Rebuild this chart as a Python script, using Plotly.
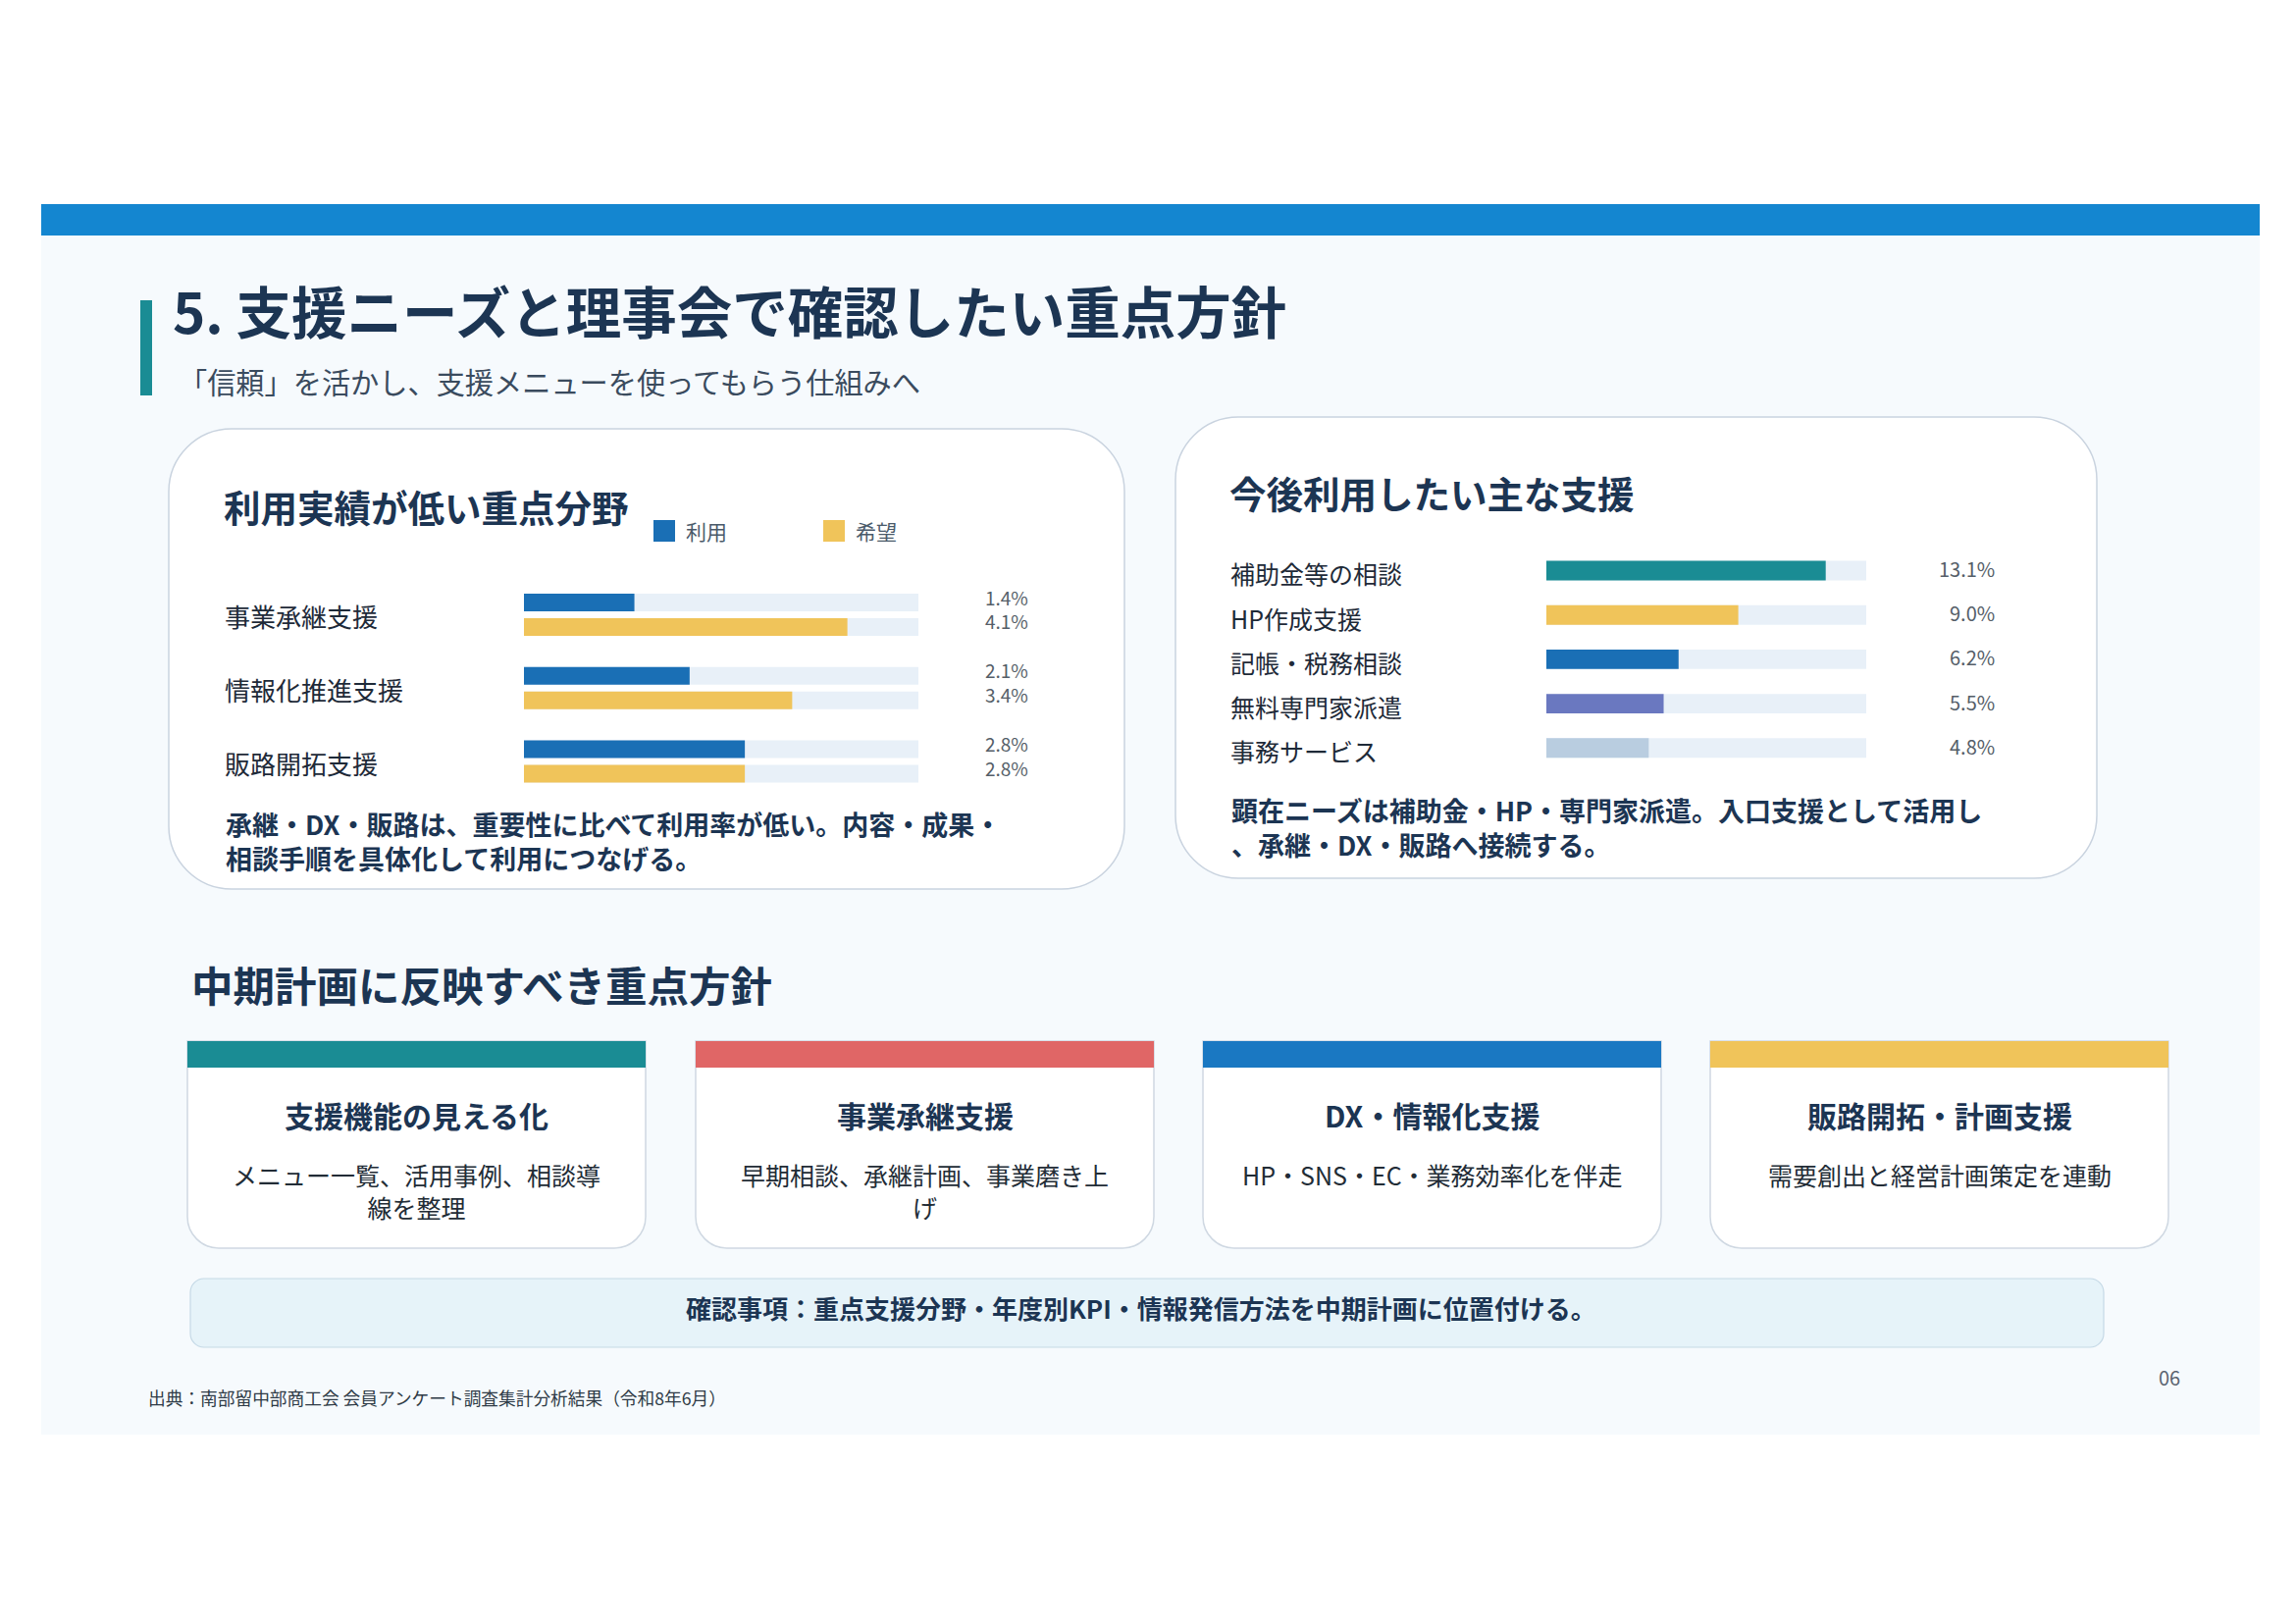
import plotly.graph_objects as go

W, H = 2340, 1654
FONT = "Noto Sans CJK JP"
NAVY = "#1c3553"

# ---------------- data ----------------
left_categories = ["事業承継支援", "情報化推進支援", "販路開拓支援"]
left_use = [1.4, 2.1, 2.8]
left_hope = [4.1, 3.4, 2.8]
left_max = 5

right_categories = ["補助金等の相談", "HP作成支援", "記帳・税務相談", "無料専門家派遣", "事務サービス"]
right_values = [13.1, 9.0, 6.2, 5.5, 4.8]
right_colors = ["#1a8c94", "#f0c45a", "#1a6fb5", "#6a78c0", "#b9cde0"]
right_max = 15

policy_titles = ["支援機能の見える化", "事業承継支援", "DX・情報化支援", "販路開拓・計画支援"]
policy_texts = ["メニュー一覧、活用事例、相談導<br>線を整理", "早期相談、承継計画、事業磨き上<br>げ",
                "HP・SNS・EC・業務効率化を伴走", "需要創出と経営計画策定を連動"]
policy_colors = ["#1a8c94", "#e06666", "#1a78c2", "#f0c45a"]

BLUE = "#1a6fb5"
YELLOW = "#f0c45a"
TRACK = "#e8f0f8"

fig = go.Figure()

def fx(px):
    return px / W

def fy(py):
    return 1 - py / H

# ---------------- left chart (xaxis2 / yaxis2) ----------------
l_x0, l_x1 = 534, 936
l_top, l_bot = 589.1, 813.4
bw = 0.24
off_use = -0.287
off_hope = 0.047
fig.add_trace(go.Bar(y=left_categories, x=[left_max] * 3, orientation="h", xaxis="x2", yaxis="y2",
                     marker=dict(color=TRACK, line=dict(width=0)), width=bw, offset=off_use,
                     hoverinfo="skip", showlegend=False))
fig.add_trace(go.Bar(y=left_categories, x=[left_max] * 3, orientation="h", xaxis="x2", yaxis="y2",
                     marker=dict(color=TRACK, line=dict(width=0)), width=bw, offset=off_hope,
                     hoverinfo="skip", showlegend=False))
fig.add_trace(go.Bar(y=left_categories, x=left_use, orientation="h", xaxis="x2", yaxis="y2", name="利用",
                     marker=dict(color=BLUE, line=dict(width=0)), width=bw, offset=off_use, showlegend=False))
fig.add_trace(go.Bar(y=left_categories, x=left_hope, orientation="h", xaxis="x2", yaxis="y2", name="希望",
                     marker=dict(color=YELLOW, line=dict(width=0)), width=bw, offset=off_hope, showlegend=False))

# ---------------- right chart (xaxis3 / yaxis3) ----------------
r_x0, r_x1 = 1576, 1902
r_top, r_bot = 558.9, 784.9
rw = 0.44
fig.add_trace(go.Bar(y=right_categories, x=[right_max] * 5, orientation="h", xaxis="x3", yaxis="y3",
                     marker=dict(color=TRACK, line=dict(width=0)), width=rw, offset=-rw / 2,
                     hoverinfo="skip", showlegend=False))
fig.add_trace(go.Bar(y=right_categories, x=right_values, orientation="h", xaxis="x3", yaxis="y3",
                     marker=dict(color=right_colors, line=dict(width=0)), width=rw, offset=-rw / 2,
                     showlegend=False))

# ---------------- shapes ----------------
shapes = []

def rect(x0, y0, x1, y1, fill, line=None, lw=0, layer="below"):
    shapes.append(dict(type="rect", xref="x", yref="y", x0=x0, y0=y0, x1=x1, y1=y1,
                       fillcolor=fill, line=dict(color=line or fill, width=lw), layer=layer))

def rrect(x0, y0, x1, y1, r, fill, line, lw=1.5, top=True, bottom=True):
    k = 0.5523 * r
    rt = r if top else 0
    rb = r if bottom else 0
    kt = k if top else 0
    kb = k if bottom else 0
    p = f"M {x0+rt},{y0} L {x1-rt},{y0} "
    if top:
        p += f"C {x1-rt+kt},{y0} {x1},{y0+rt-kt} {x1},{y0+rt} "
    p += f"L {x1},{y1-rb} "
    if bottom:
        p += f"C {x1},{y1-rb+kb} {x1-rb+kb},{y1} {x1-rb},{y1} "
    p += f"L {x0+rb},{y1} "
    if bottom:
        p += f"C {x0+rb-kb},{y1} {x0},{y1-rb+kb} {x0},{y1-rb} "
    p += f"L {x0},{y0+rt} "
    if top:
        p += f"C {x0},{y0+rt-kt} {x0+rt-kt},{y0} {x0+rt},{y0} "
    p += "Z"
    shapes.append(dict(type="path", xref="x", yref="y", path=p, fillcolor=fill,
                       line=dict(color=line, width=lw), layer="below"))

# page panel
rect(42, 240, 2303, 1462, "#f6fafd")
# top blue band
rect(42, 208, 2303, 240, "#1486d0")
# teal accent bar by title
rect(143, 306, 155, 403, "#1a8c94")
# cards
rrect(172, 437, 1146, 906, 64, "#ffffff", "#c9d3df")
rrect(1198, 425, 2137, 895, 64, "#ffffff", "#c9d3df")
# legend squares
rect(666, 530, 688, 552, BLUE)
rect(839, 530, 861, 552, YELLOW)
# policy cards
card_x = [191, 709, 1226, 1743]
card_w = 467
for i, x0 in enumerate(card_x):
    rrect(x0, 1061, x0 + card_w, 1272, 32, "#ffffff", "#cfd8e2", top=False)
    rect(x0, 1061, x0 + card_w, 1088, policy_colors[i])
# bottom banner
rrect(194, 1303, 2144, 1373, 14, "#e6f3f9", "#c5d9e6", lw=1.2)

# ---------------- annotations ----------------
ann = []

def text(x, y, s, size, color=NAVY, bold=False, xanchor="left", yanchor="middle", xref="x", yref="y",
         align="left", yshift=0):
    ann.append(dict(x=x, y=y, xref=xref, yref=yref, text=f"<b>{s}</b>" if bold else s, showarrow=False,
                    xanchor=xanchor, yanchor=yanchor, align=align, yshift=yshift,
                    font=dict(family=FONT, size=size, color=color)))

text(174, 315, "5. 支援ニーズと理事会で確認したい重点方針", 56.5, bold=True)
text(180, 388, "「信頼」を活かし、支援メニューを使ってもらう仕組みへ", 29.2, color="#3a4b5e")

# left card
text(226, 515, "利用実績が低い重点分野", 37.5, bold=True)
text(697, 541, "利用", 21, color="#4a5a6a")
text(870, 541, "希望", 21, color="#4a5a6a")
for i, c in enumerate(left_categories):
    text(fx(227), c, c, 26, color="#1e2a38", xref="paper", yref="y2", yshift=-1)
    text(fx(1050), i + off_use + bw / 2, f"{left_use[i]:.1f}%", 19, color="#555e68",
         xanchor="right", xref="paper", yref="y2", yshift=6)
    text(fx(1050), i + off_hope + bw / 2, f"{left_hope[i]:.1f}%", 19, color="#555e68",
         xanchor="right", xref="paper", yref="y2", yshift=6)
text(228, 857, "承継・DX・販路は、重要性に比べて利用率が低い。内容・成果・<br>相談手順を具体化して利用につなげる。",
     27, bold=True)

# right card
text(1251, 501, "今後利用したい主な支援", 37.5, bold=True)
for i, c in enumerate(right_categories):
    text(fx(1252), c, c, 25, color="#1e2a38", xref="paper", yref="y3", yshift=-3)
    text(fx(2035), c, f"{right_values[i]:.1f}%", 20, color="#555e68", xanchor="right",
         xref="paper", yref="y3", yshift=2)
text(1253, 843, "顕在ニーズは補助金・HP・専門家派遣。入口支援として活用し<br>、承継・DX・販路へ接続する。",
     27, bold=True)

# lower section
text(193, 1002, "中期計画に反映すべき重点方針", 42.5, bold=True)
for i, x0 in enumerate(card_x):
    cx = x0 + card_w / 2
    text(cx, 1136, policy_titles[i], 30, bold=True, xanchor="center")
    text(cx, 1177, policy_texts[i], 25, color="#222c36", xanchor="center", yanchor="top", align="center")
text(1163, 1332, "確認事項：重点支援分野・年度別KPI・情報発信方法を中期計画に位置付ける。", 26, bold=True,
     xanchor="center")
text(2224, 1403, "06", 20, color="#5a6470", xanchor="right")
text(149, 1424, "出典：南部留中部商工会 会員アンケート調査集計分析結果（令和8年6月）", 17.7, color="#2e3a46")

# ---------------- layout ----------------
hidden = dict(visible=False, showgrid=False, zeroline=False, fixedrange=True)
fig.update_layout(
    width=W, height=H, margin=dict(l=0, r=0, t=0, b=0),
    paper_bgcolor="#ffffff", plot_bgcolor="rgba(0,0,0,0)",
    barmode="overlay", showlegend=False,
    font=dict(family=FONT),
    xaxis=dict(range=[0, W], domain=[0, 1], **hidden),
    yaxis=dict(range=[H, 0], domain=[0, 1], **hidden),
    xaxis2=dict(range=[0, left_max], domain=[fx(l_x0), fx(l_x1)], anchor="y2", **hidden),
    yaxis2=dict(type="category", range=[2.5, -0.5], domain=[fy(l_bot), fy(l_top)], anchor="x2", **hidden),
    xaxis3=dict(range=[0, right_max], domain=[fx(r_x0), fx(r_x1)], anchor="y3", **hidden),
    yaxis3=dict(type="category", range=[4.5, -0.5], domain=[fy(r_bot), fy(r_top)], anchor="x3", **hidden),
    shapes=shapes, annotations=ann,
)

fig.write_html("out.html", config={"displayModeBar": False, "staticPlot": True},
               post_script="document.body.style.margin='0';document.body.style.overflow='hidden';")
